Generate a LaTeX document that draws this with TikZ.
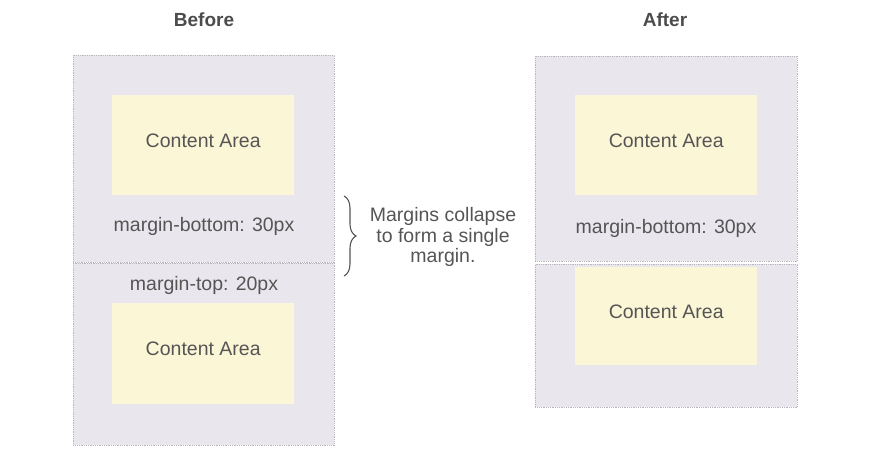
\documentclass[tikz,border=0pt]{standalone}
\usepackage{fontspec}
\setmainfont{Liberation Sans}
\usepackage{xcolor}
\usepackage{tikz}
\usetikzlibrary{positioning, decorations.pathreplacing}
\definecolor{marginlilac}{HTML}{EAE6EE}
\definecolor{marginedge}{HTML}{B9B6BC}
\definecolor{contentcream}{HTML}{FBF6D6}
\definecolor{labelgrey}{HTML}{555555}

\begin{document}
\begin{tikzpicture}[x=1pt, y=-1pt,
    marginbox/.style={fill=marginlilac, draw=marginedge, densely dotted, line width=0.8pt,
          anchor=north west, inner sep=0pt},
    contentbox/.style={fill=contentcream, anchor=north west, inner sep=0pt, text depth=10pt,
          minimum width=182pt, text=labelgrey, font=\fontsize{19.5}{21}\selectfont},
    boxlabel/.style={text=labelgrey, font=\fontsize{19.5}{21}\selectfont}]
    \useasboundingbox (0,0) rectangle (873,461);

    % before
    \node[font=\bfseries\fontsize{19}{21}\selectfont, text=labelgrey!90!black] (before) at (204,20) {Before};
    \node[marginbox, minimum width=261pt, minimum height=207pt] (bmtop) at (73,55) {};
    \node[marginbox, minimum width=261pt, minimum height=182pt] (bmbot) at (73,263) {};
    \node[contentbox, minimum height=100pt] (bctop) at (112,95) {Content Area};
    \node[contentbox, minimum height=101pt] (bcbot) at (112,303) {Content Area};
    \node[boxlabel] (bmb) at (204,226) {margin-bottom: 30px};
    \node[boxlabel] (bmt) at (204,285) {margin-top: 20px};

    % collapse note
    \coordinate (bracetop) at (344,196);
    \coordinate (bracebot) at (344,276);
    \draw[decorate, decoration={brace, amplitude=12pt}, line width=1.1pt, labelgrey]
        (bracetop) -- (bracebot);
    \node[boxlabel, align=center, font=\fontsize{19.5}{20.5}\selectfont] (note) at (443,237)
        {Margins collapse\\to form a single\\margin.};

    % after
    \node[font=\bfseries\fontsize{19}{21}\selectfont, text=labelgrey!90!black] (after) at (665,20) {After};
    \node[marginbox, minimum width=262pt, minimum height=205pt] (amtop) at (535,56) {};
    \node[marginbox, minimum width=262pt, minimum height=143pt] (ambot) at (535,264) {};
    \node[contentbox, minimum height=100pt] (actop) at (575,95) {Content Area};
    \node[contentbox, minimum height=98pt] (acbot) at (575,267) {Content Area};
    \node[boxlabel] (amb) at (666,228) {margin-bottom: 30px};
\end{tikzpicture}
\end{document}
